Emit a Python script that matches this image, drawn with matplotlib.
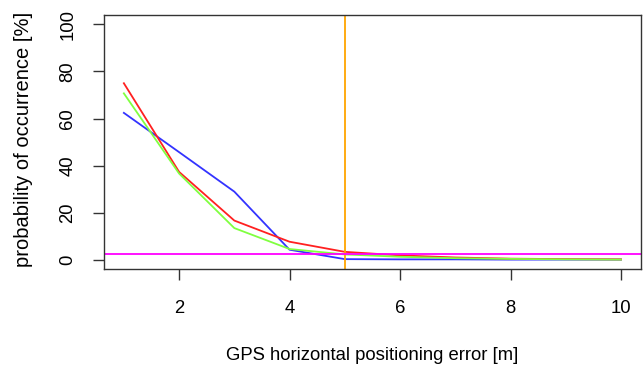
import matplotlib
matplotlib.use('Agg')
from matplotlib import pyplot as plt

plt.rcParams['font.family'] = ['Liberation Sans', 'DejaVu Sans']

# GPS horizontal positioning error [m]
error_m = [1, 2, 3, 4, 5, 6, 7, 8, 9, 10]

# probability of occurrence [%] per series
blue_vals = [62.4, 45.7, 28.9, 4.2, 0.2, 0.1, 0.1, 0.0, 0.0, 0.0]
red_vals = [75.0, 37.3, 16.6, 7.6, 3.3, 1.8, 0.9, 0.4, 0.2, 0.1]
green_vals = [70.7, 36.6, 13.4, 4.5, 2.2, 1.2, 0.6, 0.3, 0.1, 0.0]

threshold_x = 5
threshold_y = 2.2

fig = plt.figure(figsize=(6.43, 3.67), dpi=100)
ax = fig.add_axes([0.1617, 0.267, 0.835, 0.692])

ax.plot(error_m, blue_vals, color='#3333ff', lw=1.3)
ax.plot(error_m, red_vals, color='#ff2020', lw=1.3)
ax.plot(error_m, green_vals, color='#80ff40', lw=1.3)
ax.axvline(threshold_x, color='#ffa500', lw=1.3)
ax.axhline(threshold_y, color='#ff00ff', lw=1.3)

ax.set_xlim(0.64, 10.36)
ax.set_ylim(-4, 104)
ax.set_xticks([2, 4, 6, 8, 10])
ax.set_yticks([0, 20, 40, 60, 80, 100])
ax.tick_params(axis='both', labelsize=13.3, length=8, width=1, color='#333333')
ax.tick_params(axis='x', pad=14)
ax.tick_params(axis='y', pad=12)
for lab in ax.get_yticklabels():
    lab.set_rotation(90)
    lab.set_va('center')

for s in ax.spines.values():
    s.set_color('#333333')
    s.set_linewidth(1)

ax.set_xlabel('GPS horizontal positioning error [m]', fontsize=13.3)
ax.set_ylabel('probability of occurrence [%]', fontsize=14.5)
ax.xaxis.set_label_coords(0.5, -0.307)
ax.yaxis.set_label_coords(-0.132, 0.51)

fig.savefig('out.png', dpi=100)
